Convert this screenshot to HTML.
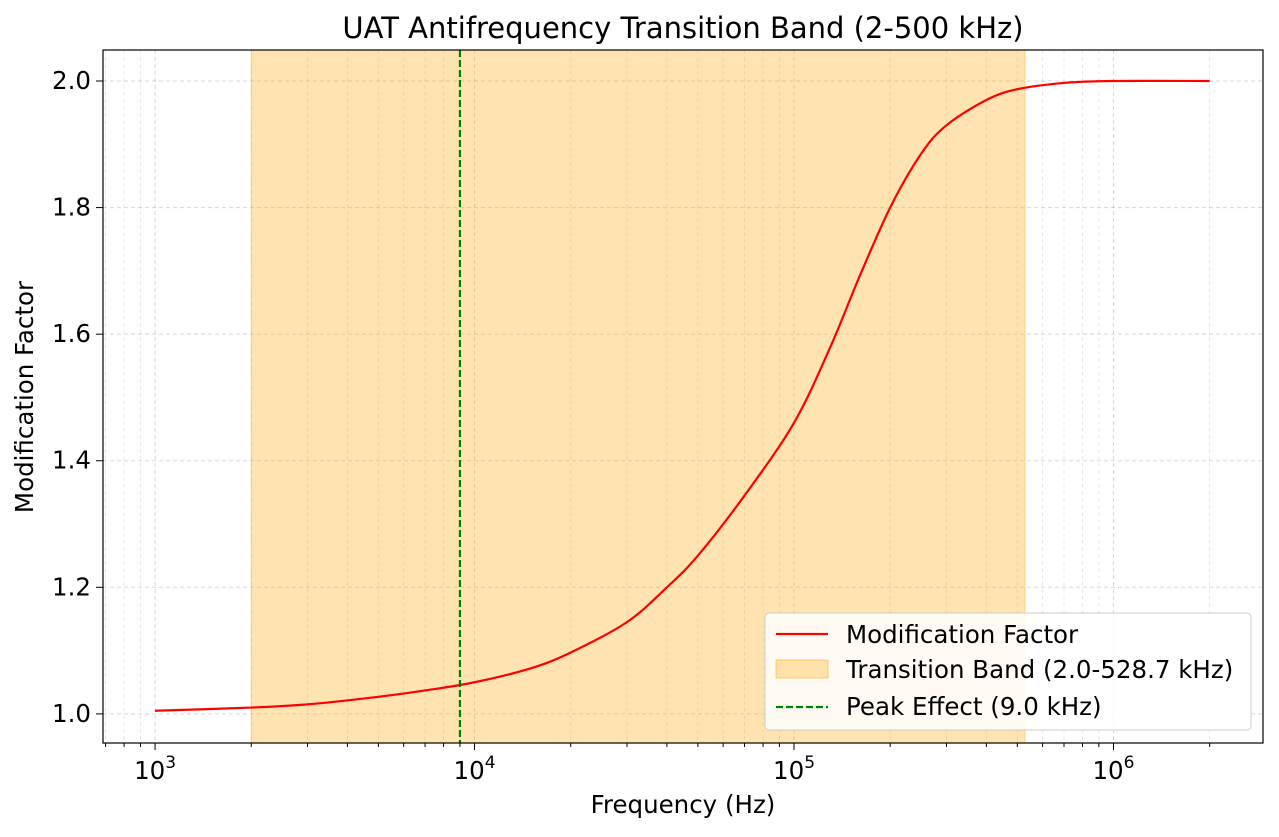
<!DOCTYPE html>
<html><head><meta charset="utf-8"><style>
body{margin:0;background:#fff;font-family:"Liberation Sans","DejaVu Sans",sans-serif}
</style></head><body>
<svg id="chart" width="1279" height="832" viewBox="0 0 1279 832" xmlns="http://www.w3.org/2000/svg" font-family="DejaVu Sans, Liberation Sans, sans-serif">
<g id="grid"></g>
<g id="marks"></g>
<g id="axes"></g>
<text x="683" y="38" font-size="29" text-anchor="middle">UAT Antifrequency Transition Band (2-500 kHz)</text>
<text x="683" y="813" font-size="24.5" text-anchor="middle">Frequency (Hz)</text>
<text transform="translate(33,397) rotate(-90)" font-size="24.5" text-anchor="middle">Modification Factor</text>
<g>
<rect x="765" y="613" width="486" height="117" rx="4" fill="#fff" fill-opacity="0.85" stroke="#ccc"/>
<line x1="776" y1="634" x2="828" y2="634" stroke="red" stroke-width="2.2"/>
<text x="846" y="643" font-size="24.5">Modification Factor</text>
<rect x="776" y="660" width="52" height="18" fill="#ffa500" fill-opacity="0.3" stroke="#ffa500" stroke-opacity="0.5"/>
<text x="846" y="678" font-size="24.5">Transition Band (2.0-528.7 kHz)</text>
<line x1="776" y1="707" x2="828" y2="707" stroke="#008000" stroke-width="2.2" stroke-dasharray="7,3"/>
<text x="846" y="715" font-size="24.5">Peak Effect (9.0 kHz)</text>
</g>
</svg>
<script>
const freqs=[1e3,2e3,3e3,5e3,7e3,1e4,1.5e4,2e4,3e4,4e4,5e4,7e4,1e5,1.3e5,1.6e5,2e5,2.5e5,3e5,4e5,5e5,7e5,1e6,2e6];
const factors=[1.005,1.01,1.015,1.027,1.037,1.05,1.072,1.097,1.145,1.2,1.25,1.345,1.46,1.58,1.69,1.8,1.885,1.93,1.97,1.987,1.997,2.0,2.0];
const bandRange=[2e3,528.7e3];
const peakFreq=9e3;
const yTicks=[1.0,1.2,1.4,1.6,1.8,2.0];
const xDecades=[3,4,5,6];
const L=103,R=1263,T=50,B=743;
const xMin=2.837,xMax=6.468,yMin=0.954,yMax=2.049;
const X=f=>L+(Math.log10(f)-xMin)/(xMax-xMin)*(R-L);
const Y=v=>B-(v-yMin)/(yMax-yMin)*(B-T);
const NS='http://www.w3.org/2000/svg';
function mk(p,t,a){const e=document.createElementNS(NS,t);for(const k in a)e.setAttribute(k,a[k]);p.appendChild(e);return e;}
const grid=document.getElementById('grid'),marks=document.getElementById('marks'),axes=document.getElementById('axes');
let band=mk(marks,'rect',{x:X(bandRange[0]),y:T,width:X(bandRange[1])-X(bandRange[0]),height:B-T,fill:'#ffa500','fill-opacity':0.3,stroke:'#ffa500','stroke-opacity':0.4});


for(let d=2;d<=6;d++){for(let m=1;m<10;m++){const f=m*Math.pow(10,d);const x=X(f);if(x<L||x>R)continue;
 const g=mk(grid,'line',{x1:x,x2:x,y1:T,y2:B,stroke:'#b0b0b0','stroke-opacity':m==1?0.5:0.35,'stroke-dasharray':'4,3','stroke-width':m==1?1:0.8});
 
 
 const t=mk(axes,'line',{x1:x,x2:x,y1:B,y2:B+(m==1?7:4),stroke:'#000','stroke-width':1});
 
 
}}
xDecades.forEach(d=>{const x=X(Math.pow(10,d));const t=mk(axes,'text',{x:x,y:B+36,'font-size':24.5,'text-anchor':'middle'});
 
 
 t.innerHTML='10<tspan dy="-11" font-size="17">'+d+'</tspan>';});
yTicks.forEach(v=>{const y=Y(v);
 const g=mk(grid,'line',{x1:L,x2:R,y1:y,y2:y,stroke:'#b0b0b0','stroke-opacity':0.5,'stroke-dasharray':'4,3'});
 
 
 const t=mk(axes,'line',{x1:L-7,x2:L,y1:y,y2:y,stroke:'#000'});
 
 
 const l=mk(axes,'text',{x:L-12,y:y+8,'font-size':24.5,'text-anchor':'end'});l.textContent=v.toFixed(1);
 
 });
const pts=freqs.map((f,i)=>[X(f),Y(factors[i])]);
let d='M'+pts[0][0]+','+pts[0][1];
for(let i=0;i<pts.length-1;i++){const p0=pts[Math.max(0,i-1)],p1=pts[i],p2=pts[i+1],p3=pts[Math.min(pts.length-1,i+2)];
 d+=' C'+(p1[0]+(p2[0]-p0[0])/6)+','+(p1[1]+(p2[1]-p0[1])/6)+' '+(p2[0]-(p3[0]-p1[0])/6)+','+(p2[1]-(p3[1]-p1[1])/6)+' '+p2[0]+','+p2[1];}
const c=mk(marks,'path',{d:d,fill:'none',stroke:'red','stroke-width':2.2});


const pk=mk(marks,'line',{x1:X(peakFreq),x2:X(peakFreq),y1:T,y2:B,stroke:'#008000','stroke-width':2.2,'stroke-dasharray':'7,3'});


const fr=mk(axes,'rect',{x:L,y:T,width:R-L,height:B-T,fill:'none',stroke:'#000','stroke-width':1.2});


</script>
</body></html>
